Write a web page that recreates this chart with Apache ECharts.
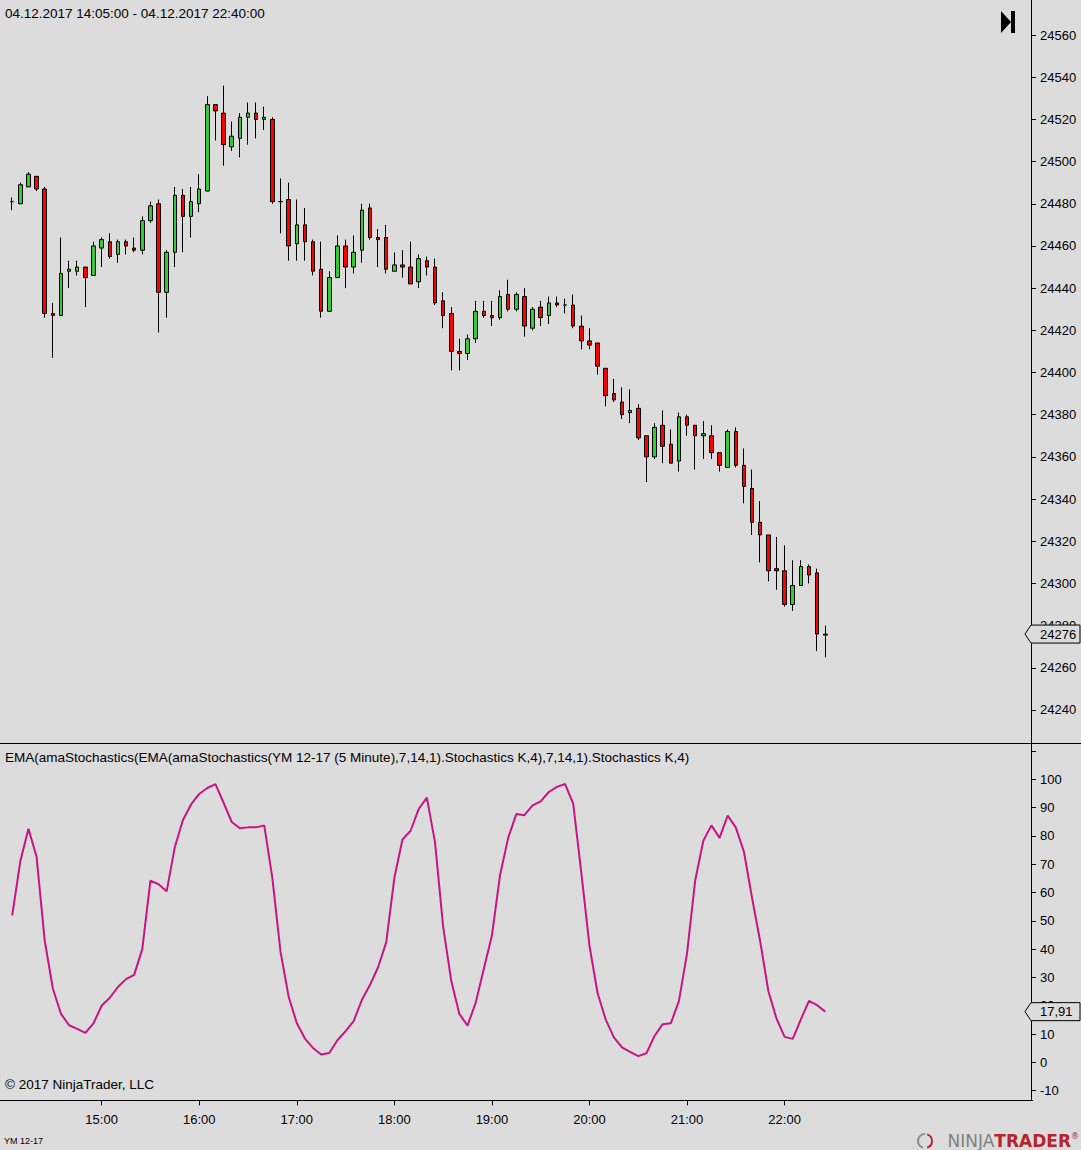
<!DOCTYPE html>
<html>
<head>
<meta charset="utf-8">
<script src="https://cdn.jsdelivr.net/npm/echarts@6/dist/echarts.min.js"></script>
<style>
html,body{margin:0;padding:0;background:#dcdcdc;}
#chart{width:1081px;height:1150px;}
</style>
</head>
<body>
<div id="chart"></div>
<script>
// ---- data (5-minute bars, 14:05 .. 22:25) ----
const firstBarTime = '14:05';
const opens = [24481,24480,24488,24493,24487,24428,24427,24448,24448,24450,
24446,24459,24462,24456,24462,24459,24458,24472,24480,24438,
24457,24484,24474,24480,24486,24527,24523,24507,24511,24521,
24523,24520,24520,24481,24482,24461,24470,24462,24449,24429,
24445,24460,24450,24458,24478,24464,24464,24448,24451,24450,
24443,24453,24450,24434,24428,24410,24409,24416,24429,24427,
24426,24437,24430,24436,24421,24431,24427,24433,24432,24432,
24422,24415,24414,24402,24390,24386,24381,24383,24370,24360,
24375,24366,24358,24379,24375,24370,24370,24362,24355,24372,
24356,24345,24329,24323,24307,24306,24290,24299,24308,24305,
24275.5];
const closes = [24481,24489,24494,24487,24428,24427,24447,24449,24450,24445,
24460,24463,24455,24462,24460,24458,24472,24479,24438,24457,
24484,24474,24481,24487,24527,24524,24508,24512,24521,24523,
24520,24521,24481,24481,24460,24470,24462,24448,24429,24445,
24460,24450,24457,24477,24464,24463,24449,24451,24450,24442,
24454,24450,24433,24427,24410,24409,24416,24429,24427,24426,
24436,24430,24437,24422,24430,24426,24433,24432,24432,24422,
24415,24413,24403,24389,24387,24380,24382,24369,24360,24374,
24365,24357,24379,24375,24370,24371,24362,24356,24372,24356,
24346,24329,24323,24306,24306,24290,24299,24308,24304,24276,
24276];
const highs = [24483,24490,24495,24493,24488,24433,24464,24453,24453,24450,
24462,24464,24466,24463,24463,24464,24474,24481,24482,24458,
24488,24487,24488,24494,24531,24527,24536,24519,24523,24528,
24528,24526,24521,24492,24490,24482,24478,24463,24462,24448,
24465,24463,24465,24480,24480,24468,24470,24457,24458,24462,
24456,24455,24454,24438,24431,24416,24418,24434,24434,24434,
24439,24444,24438,24440,24431,24434,24436,24436,24435,24437,
24427,24421,24414,24402,24397,24393,24392,24385,24370,24376,
24382,24373,24381,24380,24375,24377,24375,24362,24373,24374,
24364,24354,24339,24323,24322,24318,24311,24311,24309,24307,
24280];
const lows = [24477,24480,24488,24486,24426,24407,24427,24440,24446,24431,
24446,24450,24454,24452,24456,24457,24456,24471,24419,24426,
24450,24457,24464,24476,24486,24510,24498,24505,24502,24508,
24511,24515,24480,24466,24453,24453,24453,24446,24426,24429,
24445,24440,24447,24452,24463,24450,24447,24448,24445,24442,
24440,24446,24432,24421,24401,24401,24406,24414,24426,24422,
24425,24429,24429,24417,24420,24422,24423,24431,24428,24421,
24411,24411,24399,24384,24386,24378,24376,24368,24348,24359,
24357,24357,24353,24370,24354,24359,24359,24353,24355,24355,
24338,24323,24310,24301,24297,24289,24287,24299,24300,24268,
24265];
const stochK = [51.9,71.0,82.5,72.6,43.0,26.1,17.1,13.1,11.8,10.4,
13.8,20.0,22.8,26.6,29.4,30.9,40.0,64.2,62.9,60.4,
76.0,85.6,91.1,94.8,96.9,98.3,91.7,84.9,82.7,83.0,
83.0,83.7,65.1,39.1,23.2,13.9,8.4,5.1,2.8,3.3,
7.8,11.0,14.6,22.0,27.3,33.6,42.4,65.1,78.7,81.8,
89.5,93.5,77.8,48.0,28.8,17.1,13.0,21.0,33.0,44.8,
66.1,79.3,87.7,87.3,90.8,92.2,95.5,97.3,98.3,91.4,
66.9,41.2,24.4,15.1,8.8,5.3,3.7,2.2,3.2,9.3,
13.5,13.8,21.6,38.5,64.2,78.3,83.7,79.3,87.2,82.9,
74.4,58.0,42.7,25.2,15.5,9.0,8.3,15.2,21.7,20.2,
17.91];
const hourLabels = ['15:00','16:00','17:00','18:00','19:00','20:00','21:00','22:00'];
const priceTicks = [24240,24260,24280,24300,24320,24340,24360,24380,24400,24420,24440,24460,24480,24500,24520,24540,24560];
const stochLabels = [-10,0,10,20,30,40,50,60,70,80,90,100];
const stochTicks = [-10,0,10,20,30,40,50,60,70,80,90,100,110];
const headerText = '04.12.2017 14:05:00 - 04.12.2017 22:40:00';
const indicatorText = 'EMA(amaStochastics(EMA(amaStochastics(YM 12-17 (5 Minute),7,14,1).Stochastics K,4),7,14,1).Stochastics K,4)';

// ---- x domain: 5-minute slots from 14:00 ----
const slotCount = 127;
const categories = [];
for (let k = 0; k < slotCount; k++) {
  const m = 14 * 60 + 5 * k;
  categories.push(String(Math.floor(m / 60)).padStart(2, '0') + ':' + String(m % 60).padStart(2, '0'));
}
const barStart = categories.indexOf(firstBarTime);
const candleData = categories.map((c, k) => {
  const i = k - barStart;
  return (i >= 0 && i < opens.length) ? [opens[i], closes[i], lows[i], highs[i]] : ['-', '-', '-', '-'];
});
const stochData = categories.map((c, k) => {
  const i = k - barStart;
  return (i >= 0 && i < stochK.length) ? stochK[i] : '-';
});

const FONT = 'Liberation Sans, Arial, sans-serif';
const isHour = (idx, val) => hourLabels.indexOf(val) >= 0;
const plain = v => String(v);

const GRID_RIGHT = 48.4;   // plot area width 1032.6
const AXIS_SHIFT = -1.6;   // value axis line drawn at x = 1031

const chart = echarts.init(document.getElementById('chart'), null, {renderer: 'svg'});
const option = {
  animation: false,
  backgroundColor: '#dcdcdc',
  grid: [
    {left: 0, right: GRID_RIGHT, top: 0, height: 743},
    {left: 0, right: GRID_RIGHT, top: 743, bottom: 49.7}
  ],
  xAxis: [
    {type: 'category', gridIndex: 0, data: categories, boundaryGap: true,
     axisLine: {show: false}, axisTick: {show: false}, axisLabel: {show: false}, splitLine: {show: false}},
    {type: 'category', gridIndex: 1, data: categories, boundaryGap: true,
     axisLine: {show: true, onZero: false, lineStyle: {color: '#000', width: 1}},
     axisTick: {show: true, interval: isHour, alignWithLabel: true, length: 5, lineStyle: {color: '#000'}},
     axisLabel: {show: true, interval: isHour, margin: 13, color: '#000', fontSize: 13, fontFamily: FONT},
     splitLine: {show: false}}
  ],
  yAxis: [
    {type: 'value', gridIndex: 0, position: 'right', offset: AXIS_SHIFT, min: 24224.35, max: 24576.6, scale: true,
     axisLine: {show: true, lineStyle: {color: '#000', width: 1}},
     axisTick: {show: true, customValues: priceTicks, length: 5, lineStyle: {color: '#000'}},
     axisLabel: {show: true, customValues: priceTicks, formatter: plain, margin: 9, color: '#000', fontSize: 13, fontFamily: FONT},
     splitLine: {show: false}},
    {type: 'value', gridIndex: 1, position: 'right', offset: AXIS_SHIFT, min: -13.4, max: 112.8,
     axisLine: {show: true, lineStyle: {color: '#000', width: 1}},
     axisTick: {show: true, customValues: stochTicks, length: 5, lineStyle: {color: '#000'}},
     axisLabel: {show: true, customValues: stochLabels, formatter: plain, margin: 9, color: '#000', fontSize: 13, fontFamily: FONT},
     splitLine: {show: false}}
  ],
  series: [
    {type: 'candlestick', name: 'YM 12-17', xAxisIndex: 0, yAxisIndex: 0, data: candleData, barWidth: 4,
     itemStyle: {color: '#32CD32', color0: '#FF0000', borderColor: '#000', borderColor0: '#000', borderColorDoji: '#000', borderWidth: 1}},
    {type: 'line', name: 'Stochastics K', xAxisIndex: 1, yAxisIndex: 1, data: stochData, symbol: 'none',
     lineStyle: {color: '#C71585', width: 2}}
  ]
};
chart.setOption(option);

const lastClose = closes[closes.length - 1];
const lastK = stochK[stochK.length - 1];
const pY = chart.convertToPixel({yAxisIndex: 0}, lastClose);
const sY = chart.convertToPixel({yAxisIndex: 1}, lastK);

function marker(y, text) {
  return [
    {type: 'polygon', z: 100, shape: {points: [[1025, y], [1031, y - 9], [1080, y - 9], [1080, y + 9], [1031, y + 9]]},
     style: {fill: '#dcdcdc', stroke: '#000', lineWidth: 1}},
    {type: 'text', z: 101, x: 1040, y: y,
     style: {text: text, fill: '#000', font: '13px ' + FONT, textVerticalAlign: 'middle', verticalAlign: 'middle'}}
  ];
}
function label(x, y, text, size) {
  return {type: 'text', z: 50, x: x, y: y,
    style: {text: text, fill: '#000', font: size + 'px ' + FONT, textVerticalAlign: 'middle', verticalAlign: 'middle'}};
}

chart.setOption({
  graphic: [
    {type: 'line', z: 90, shape: {x1: 0, y1: 743.5, x2: 1081, y2: 743.5}, style: {stroke: '#000', lineWidth: 1}},
    label(5, 13, headerText, 13.5),
    label(5, 757, indicatorText, 13.5),
    label(5, 1084, '\u00A9 2017 NinjaTrader, LLC', 13.5),
    label(4, 1141, 'YM 12-17', 9),
    {type: 'polygon', z: 60, shape: {points: [[1001, 11], [1001, 33], [1011, 22]]}, style: {fill: '#000'}},
    {type: 'rect', z: 60, shape: {x: 1011, y: 11, width: 4, height: 22}, style: {fill: '#000'}},
    {type: 'arc', z: 60, shape: {cx: 925, cy: 1141, r: 7, startAngle: Math.PI * 0.6, endAngle: Math.PI * 1.5}, style: {stroke: '#8a8a8a', lineWidth: 2, fill: 'none'}},
    {type: 'arc', z: 60, shape: {cx: 925, cy: 1141, r: 7, startAngle: Math.PI * 1.6, endAngle: Math.PI * 2.4}, style: {stroke: '#b3262b', lineWidth: 2, fill: 'none'}},
    {type: 'text', z: 60, x: 1079, y: 1141,
     style: {text: '{a|NINJA}{b|TRADER}{c|\u00AE}', textAlign: 'right', align: 'right', textVerticalAlign: 'middle', verticalAlign: 'middle',
       rich: {a: {fill: '#808080', color: '#808080', fontSize: 17, fontFamily: 'DejaVu Sans'},
              b: {fill: '#b3262b', color: '#b3262b', fontSize: 17, fontWeight: 'bold', fontFamily: 'DejaVu Sans'},
              c: {fill: '#b3262b', color: '#b3262b', fontSize: 8, fontFamily: 'DejaVu Sans', verticalAlign: 'top'}}}}
  ].concat(marker(pY, String(lastClose)), marker(sY, lastK.toFixed(2).replace('.', ',')))
});
</script>
</body>
</html>
